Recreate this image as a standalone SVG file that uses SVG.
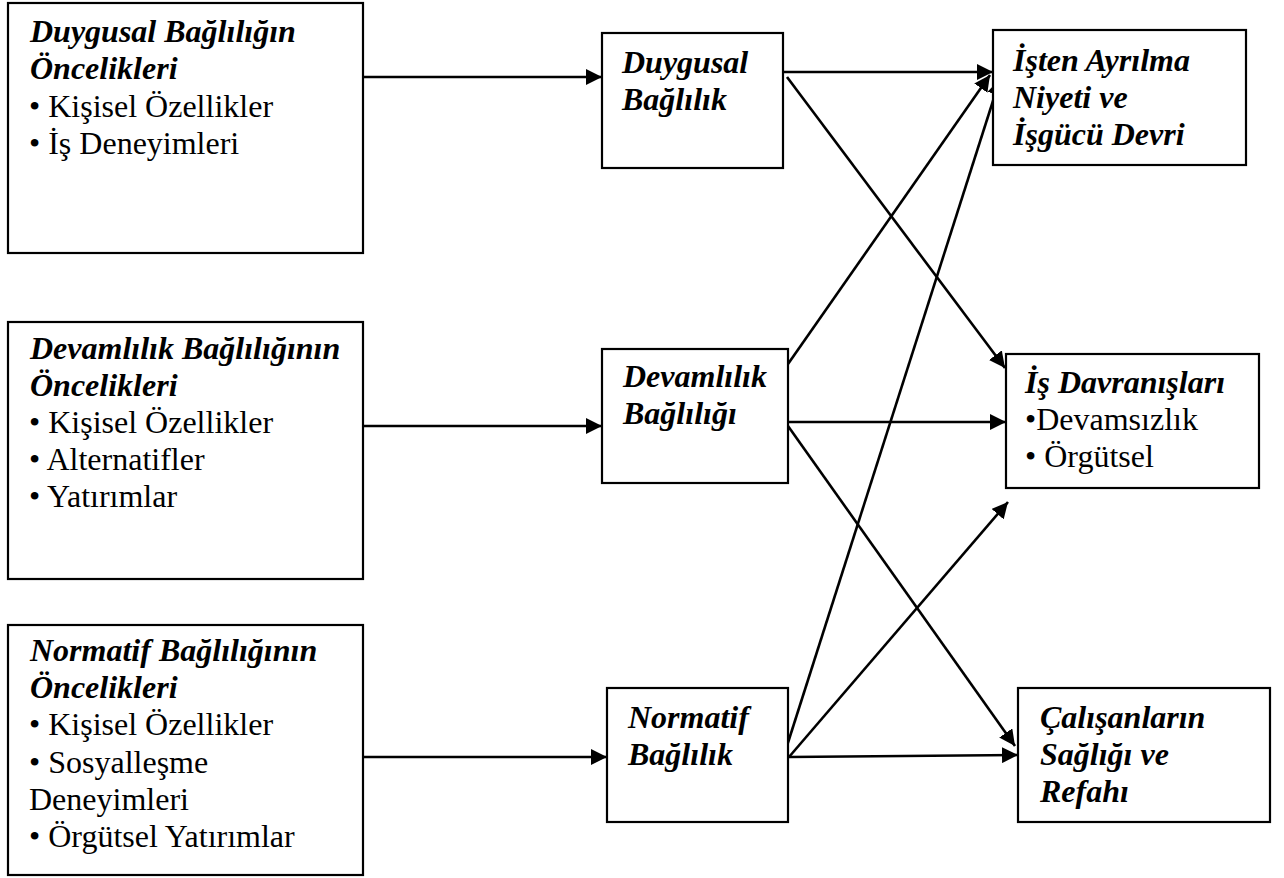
<svg xmlns="http://www.w3.org/2000/svg" width="1284" height="878" viewBox="0 0 1284 878">
<defs>
<style>
.box{fill:#fff;stroke:#000;stroke-width:2.2}
.t{font-family:"Liberation Serif","Times New Roman",serif;font-size:32px;fill:#000}
.h{font-family:"Liberation Serif","Times New Roman",serif;font-size:32px;font-weight:bold;font-style:italic;fill:#000}
.c{stroke:#000;stroke-width:2.6;fill:none;marker-end:url(#ah)}
</style>
<marker id="ah" markerUnits="userSpaceOnUse" markerWidth="17" markerHeight="16" refX="16" refY="8" orient="auto">
<path d="M0,0 L16,8 L0,16 z" fill="#000"/>
</marker>
</defs>
<rect width="1284" height="878" fill="#fff"/>

<g id="connectors">
<line class="c" x1="363" y1="77" x2="602" y2="77"/>
<line class="c" x1="363" y1="426" x2="602" y2="426"/>
<line class="c" x1="363" y1="757" x2="607" y2="757"/>
<line class="c" x1="783" y1="72" x2="993" y2="72"/>
<line class="c" x1="787" y1="77" x2="1005" y2="368"/>
<line class="c" x1="788" y1="364" x2="990" y2="75"/>
<line class="c" x1="788" y1="422" x2="1006" y2="422"/>
<line class="c" x1="788" y1="426" x2="1015" y2="746"/>
<line class="c" x1="785" y1="752" x2="1000" y2="79"/>
<line class="c" x1="789" y1="757" x2="1008" y2="502"/>
<line class="c" x1="789" y1="757" x2="1018" y2="755"/>
</g>

<g id="duygusal-oncelikleri">
<rect class="box" x="8" y="3" width="355" height="250"/>
<text class="h" x="30" y="42">Duygusal Bağlılığın</text>
<text class="h" x="30" y="79">Öncelikleri</text>
<text class="t" x="29" y="117">• Kişisel Özellikler</text>
<text class="t" x="29" y="154">• İş Deneyimleri</text>
</g>

<g id="devamlilik-oncelikleri">
<rect class="box" x="8" y="322" width="355" height="257"/>
<text class="h" x="30" y="359">Devamlılık Bağlılığının</text>
<text class="h" x="30" y="396">Öncelikleri</text>
<text class="t" x="29" y="433">• Kişisel Özellikler</text>
<text class="t" x="29" y="470">• Alternatifler</text>
<text class="t" x="29" y="507">• Yatırımlar</text>
</g>

<g id="normatif-oncelikleri">
<rect class="box" x="8" y="625" width="355" height="250"/>
<text class="h" x="30" y="661">Normatif Bağlılığının</text>
<text class="h" x="30" y="698">Öncelikleri</text>
<text class="t" x="29" y="735">• Kişisel Özellikler</text>
<text class="t" x="29" y="773">• Sosyalleşme</text>
<text class="t" x="29" y="810">Deneyimleri</text>
<text class="t" x="29" y="847">• Örgütsel Yatırımlar</text>
</g>

<g id="duygusal-baglilik">
<rect class="box" x="602" y="33" width="181" height="135"/>
<text class="h" x="622" y="73">Duygusal</text>
<text class="h" x="622" y="110">Bağlılık</text>
</g>

<g id="devamlilik-bagliligi">
<rect class="box" x="602" y="349" width="186" height="134"/>
<text class="h" x="623" y="387">Devamlılık</text>
<text class="h" x="623" y="424">Bağlılığı</text>
</g>

<g id="normatif-baglilik">
<rect class="box" x="607" y="688" width="181" height="134"/>
<text class="h" x="628" y="728">Normatif</text>
<text class="h" x="628" y="765">Bağlılık</text>
</g>

<g id="isten-ayrilma">
<rect class="box" x="993" y="30" width="253" height="135"/>
<text class="h" x="1013" y="71">İşten Ayrılma</text>
<text class="h" x="1013" y="108">Niyeti ve</text>
<text class="h" x="1013" y="145">İşgücü Devri</text>
</g>

<g id="is-davranislari">
<rect class="box" x="1006" y="354" width="253" height="134"/>
<text class="h" x="1025" y="393">İş Davranışları</text>
<text class="t" x="1025" y="430">•Devamsızlık</text>
<text class="t" x="1025" y="467">• Örgütsel</text>
</g>

<g id="calisanlarin-sagligi">
<rect class="box" x="1018" y="688" width="252" height="134"/>
<text class="h" x="1040" y="728">Çalışanların</text>
<text class="h" x="1040" y="765">Sağlığı ve</text>
<text class="h" x="1040" y="802">Refahı</text>
</g>
</svg>
